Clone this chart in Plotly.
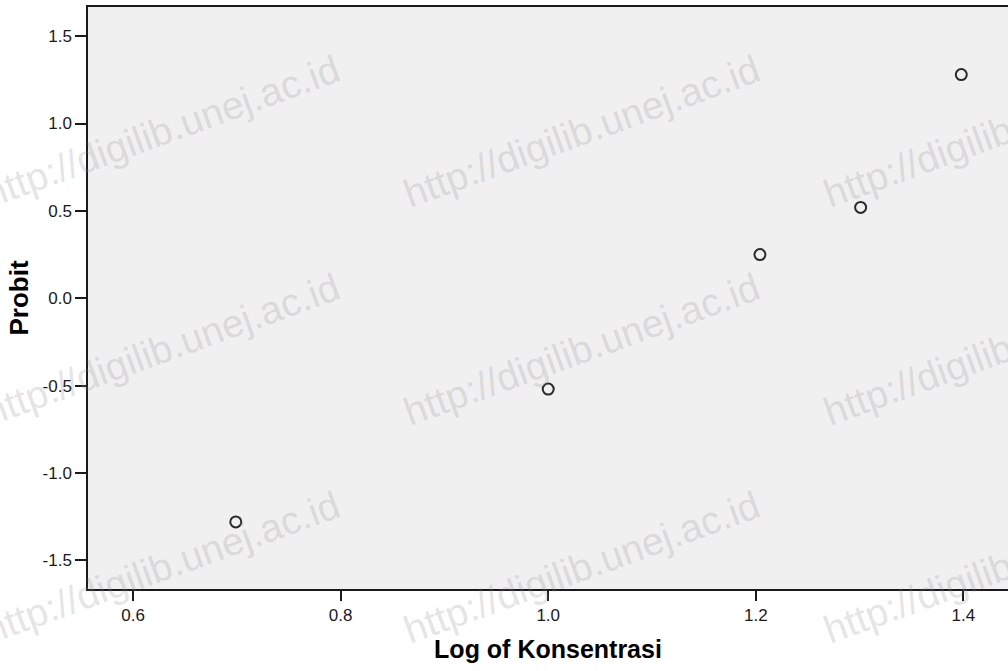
import plotly.graph_objects as go

# Data
log_konsentrasi = [0.699, 1.000, 1.204, 1.301, 1.398]
probit = [-1.28, -0.52, 0.25, 0.52, 1.28]

x_ticks = [0.6, 0.8, 1.0, 1.2, 1.4]
x_tick_labels = ["0.6", "0.8", "1.0", "1.2", "1.4"]
y_ticks = [-1.5, -1.0, -0.5, 0.0, 0.5, 1.0, 1.5]
y_tick_labels = ["-1.5", "-1.0", "-0.5", "0.0", "0.5", "1.0", "1.5"]

watermark_text = "http://digilib.unej.ac.id"

W, H = 1008, 671
ML, MR, MT, MB = 88, 0, 7, 82
pw, ph = W - ML - MR, H - MT - MB

# watermark centres in pixels (decoration only)
wm_cols = [161, 581, 1001]
wm_rows = [131, 349, 567]

fig = go.Figure()
fig.add_trace(go.Scatter(
    x=log_konsentrasi, y=probit, mode="markers",
    marker=dict(symbol="circle-open", size=11, color="#2a2a2a",
                line=dict(width=2, color="#2a2a2a")),
    showlegend=False, hoverinfo="x+y",
))

annotations = []
for cy in wm_rows:
    for cx in wm_cols:
        annotations.append(dict(
            text=watermark_text, xref="paper", yref="paper",
            x=(cx - ML) / pw, y=(H - MB - cy) / ph,
            xanchor="center", yanchor="middle", showarrow=False,
            textangle=-20,
            font=dict(family="Liberation Sans, Arial", size=39,
                      color="rgba(140,140,140,0.24)"),
        ))

fig.update_layout(
    width=W, height=H, autosize=False,
    margin=dict(l=ML, r=MR, t=MT, b=MB, pad=0),
    paper_bgcolor="white", plot_bgcolor="#f0f0f0",
    font=dict(family="Liberation Sans, Arial", color="#1a1a1a"),
    annotations=annotations,
    xaxis=dict(
        range=[0.5566, 1.4430], tickvals=x_ticks, ticktext=x_tick_labels,
        showgrid=False, zeroline=False,
        showline=True, linecolor="#1a1a1a", linewidth=1.5, mirror=True,
        ticks="outside", ticklen=10, tickwidth=1.5, tickcolor="#1a1a1a",
        tickfont=dict(size=17, family="Liberation Sans, Arial", color="#1a1a1a"),
        title=dict(text="<b>Log of Konsentrasi</b>", standoff=16,
                   font=dict(size=25, family="Liberation Sans, Arial", color="#000")),
    ),
    yaxis=dict(
        range=[-1.664, 1.667], tickvals=y_ticks, ticktext=y_tick_labels,
        showgrid=False, zeroline=False,
        showline=True, linecolor="#1a1a1a", linewidth=1.5, mirror=False,
        ticks="outside", ticklen=11, tickwidth=1.5, tickcolor="#1a1a1a",
        tickfont=dict(size=17, family="Liberation Sans, Arial", color="#1a1a1a"),
        title=dict(text="<b>Probit</b>", standoff=6,
                   font=dict(size=26, family="Liberation Sans, Arial", color="#000")),
    ),
)

fig.write_html(
    "out.html",
    config={"displayModeBar": False},
    post_script="document.body.style.margin='0';document.body.style.overflow='hidden';",
)
